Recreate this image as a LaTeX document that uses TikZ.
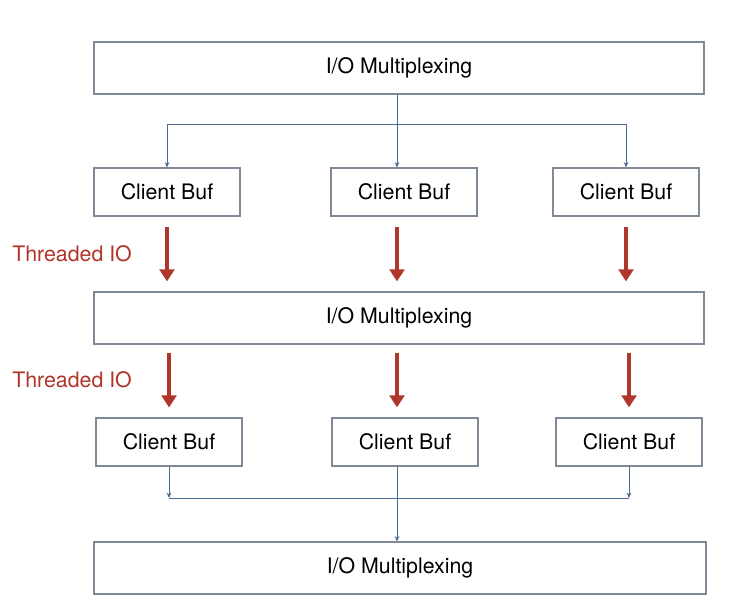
\documentclass[tikz,border=0pt]{standalone}
\usepackage{fontspec}
\setmainfont{TeX Gyre Heros}
\usepackage{xcolor}
\usepackage{tikz}
\usetikzlibrary{arrows.meta,calc,positioning}

\definecolor{boxgray}{HTML}{7F8A96}
\definecolor{linkblue}{HTML}{4A6B8F}
\definecolor{threadred}{HTML}{B0362A}

\tikzset{
  iobox/.style={draw=boxgray,line width=0.9pt,minimum width=457.5pt,minimum height=39pt,inner sep=0pt,font=\fontsize{16}{19}\selectfont},
  bufbox/.style={draw=boxgray,line width=0.9pt,minimum width=109.5pt,minimum height=36pt,inner sep=0pt,font=\fontsize{16}{19}\selectfont},
  link/.style={draw=linkblue,line width=0.6pt},
  linkarr/.style={link,-{Stealth[length=4pt,width=3.5pt]}},
  thread/.style={draw=threadred,line width=3pt,-{Triangle[length=9pt,width=11pt]}},
  threadlbl/.style={text=threadred,anchor=west,inner sep=0pt,font=\fontsize{16}{19}\selectfont}
}

\begin{document}
\begin{tikzpicture}[x=0.75pt,y=-0.75pt]
  \useasboundingbox[fill=white] (0,0) rectangle (748,612);

  % multiplexers
  \node[iobox] (io1) at (399,68) {I/O Multiplexing};
  \node[iobox] (io2) at (399,318) {I/O Multiplexing};
  \node[iobox,minimum width=459pt] (io3) at (400,568) {I/O Multiplexing};

  % client buffers
  \node[bufbox] (cb1) at (167,192) {Client Buf};
  \node[bufbox] (cb2) at (404,192) {Client Buf};
  \node[bufbox] (cb3) at (626,192) {Client Buf};
  \node[bufbox] (cb4) at (169,442) {Client Buf};
  \node[bufbox] (cb5) at (405,442) {Client Buf};
  \node[bufbox] (cb6) at (629,442) {Client Buf};

  % labels
  \node[threadlbl] (lblA) at (12,254) {Threaded IO};
  \node[threadlbl] (lblB) at (12,380) {Threaded IO};

  % fan out
  \coordinate (split) at (397,124);
  \draw[link] (split |- io1.south) -- (split);
  \draw[linkarr] (split) -| (cb1.north);
  \draw[linkarr] (split) -| (cb3.north);
  \draw[linkarr] (split) -- (split |- cb2.north);

  % threaded io
  \foreach \c in {cb1,split,cb3}{
    \draw[thread] ([yshift=-7.5pt]\c |- cb1.south) -- ([yshift=7.5pt]\c |- io2.north);
  }
  \foreach \c in {cb4,split,cb6}{
    \draw[thread] ([yshift=-6pt]\c |- io2.south) -- ([yshift=7.5pt]\c |- cb4.north);
  }

  % fan in
  \coordinate (joinL) at (169,498);
  \coordinate (joinR) at (629,498);
  \draw[linkarr] (cb4.south) -- (joinL);
  \draw[linkarr] (cb6.south) -- (joinR);
  \draw[link] (joinL) -- (joinR);
  \draw[linkarr] (split |- cb5.south) -- (split |- io3.north);
\end{tikzpicture}
\end{document}
